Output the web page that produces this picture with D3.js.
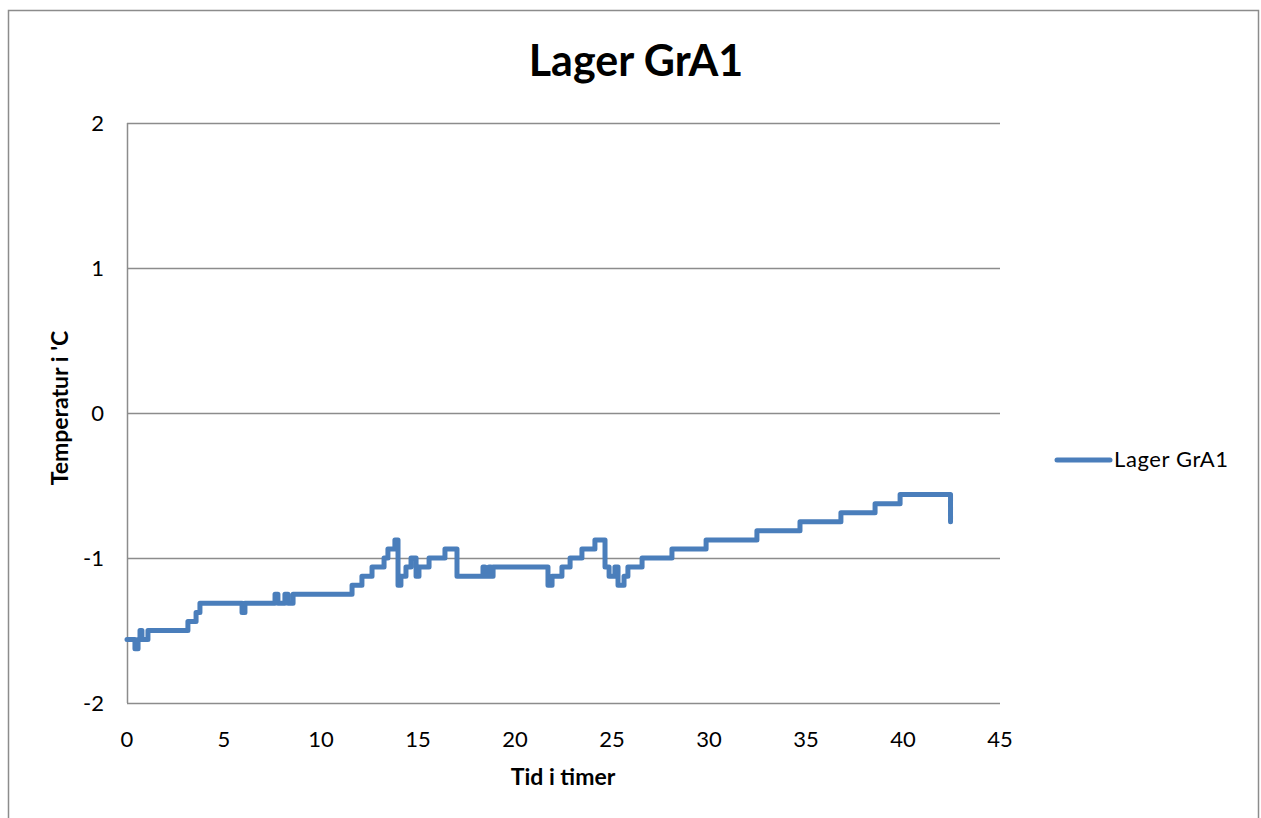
<!DOCTYPE html>
<html><head><meta charset="utf-8">
<script src="https://cdn.jsdelivr.net/npm/d3@7"></script>
<style>body{margin:0;background:#fff}svg{display:block}text{font-family:Lato,"Open Sans",sans-serif}</style>
</head><body>
<svg id="c" width="1261" height="818"></svg>
<script>
const title = "Lager GrA1";
const seriesName = "Lager GrA1";
const xTicks = [0,5,10,15,20,25,30,35,40,45];
const yTicks = [-2,-1,0,1,2];
// change points (hours) and temperatures (°C), step-after
const times = [0,0.41,0.57,0.67,0.77,1.08,3.14,3.56,3.76,5.93,6.08,7.63,7.78,8.14,8.30,8.56,
 11.6,12.11,12.63,13.25,13.45,13.81,13.97,14.12,14.38,14.64,14.9,15.05,15.57,16.39,17.01,
 18.35,18.45,18.66,18.76,18.87,21.7,21.91,22.42,22.84,23.45,24.12,24.64,24.85,25.15,25.31,
 25.62,25.82,26.55,28.09,29.85,32.47,34.69,36.8,38.56,39.85,42.45];
const temps = [-1.5625,-1.625,-1.5625,-1.5,-1.5625,-1.5,-1.4375,-1.375,-1.3125,-1.375,-1.3125,-1.25,-1.3125,-1.25,-1.3125,-1.25,
 -1.1875,-1.125,-1.0625,-1,-0.9375,-0.875,-1.1875,-1.125,-1.0625,-1,-1.125,-1.0625,-1,-0.9375,-1.125,
 -1.0625,-1.125,-1.0625,-1.125,-1.0625,-1.1875,-1.125,-1.0625,-1,-0.9375,-0.875,-1.0625,-1.125,-1.0625,-1.1875,
 -1.125,-1.0625,-1,-0.9375,-0.875,-0.8125,-0.75,-0.6875,-0.625,-0.5625,-0.75];

const svg = d3.select("#c");
const L=127,R=1000,T=123,B=703;
const x = d3.scaleLinear().domain([0,45]).range([L,R]);
const y = d3.scaleLinear().domain([-2,2]).range([B,T]);

svg.append("rect").attr("x",8.5).attr("y",10.5).attr("width",1250).attr("height",820)
  .attr("fill","none").attr("stroke","#8c8c8c").attr("stroke-width",1.5);

svg.append("g").selectAll("line").data(yTicks).join("line")
  .attr("x1",L).attr("x2",R).attr("y1",d=>Math.round(y(d))+0.5).attr("y2",d=>Math.round(y(d))+0.5)
  .attr("stroke","#8c8c8c").attr("stroke-width",1.5);
svg.append("line").attr("x1",L+0.5).attr("x2",L+0.5).attr("y1",T).attr("y2",B)
  .attr("stroke","#8c8c8c").attr("stroke-width",1.5);

svg.append("g").selectAll("text").data(yTicks).join("text")
  .attr("x",104).attr("y",d=>y(d)+8).attr("text-anchor","end")
  .attr("font-size",22).text(d=>d);
svg.append("g").selectAll("text").data(xTicks).join("text")
  .attr("x",d=>x(d)).attr("y",747).attr("text-anchor","middle")
  .attr("font-size",22).text(d=>d);

svg.append("text").attr("x",636).attr("y",76).attr("text-anchor","middle")
  .attr("font-size",43).attr("font-weight","bold").text(title);
svg.append("text").attr("x",563).attr("y",785).attr("text-anchor","middle")
  .attr("font-size",23).attr("font-weight","bold").text("Tid i timer");
svg.append("text").attr("transform","translate(68,408) rotate(-90)").attr("text-anchor","middle")
  .attr("font-size",23).attr("font-weight","bold").text("Temperatur i 'C");

const pts = times.map((t,i)=>[t,temps[i]]);
const line = d3.line().x(d=>x(d[0])).y(d=>y(d[1])).curve(d3.curveStepAfter);
svg.append("path").attr("d",line(pts)).attr("fill","none").attr("stroke","#4A7EBB")
  .attr("stroke-width",5).attr("stroke-linejoin","round").attr("stroke-linecap","round");

svg.append("line").attr("x1",1057).attr("x2",1110).attr("y1",460).attr("y2",460)
  .attr("stroke","#4A7EBB").attr("stroke-width",5).attr("stroke-linecap","round");
svg.append("text").attr("x",1114).attr("y",467).attr("font-size",22).attr("letter-spacing",0.6).text(seriesName);
</script>
</body></html>
